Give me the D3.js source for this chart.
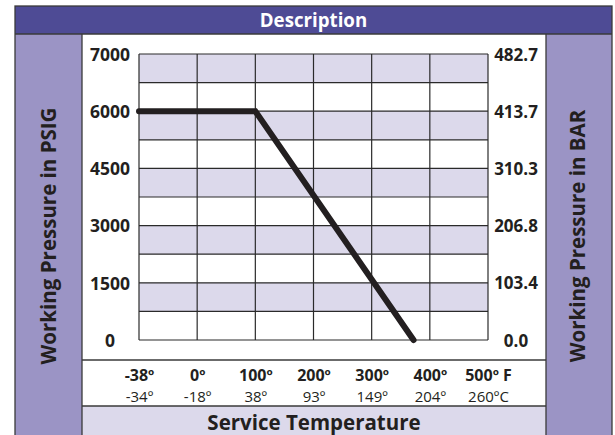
<!DOCTYPE html>
<html>
<head>
<meta charset="utf-8">
<script src="https://cdn.jsdelivr.net/npm/d3@7/dist/d3.min.js"></script>
<style>
  html, body { margin: 0; padding: 0; background: #fff; }
  svg { display: block; }
  text { font-family: "Open Sans", "Noto Sans", sans-serif; fill: #231f20; }
</style>
</head>
<body>
<svg id="chart" width="615" height="435"></svg>
<script>
// ---- data ----
const tempF = [-38, 0, 100, 200, 300, 400, 500];
const tempFLabels = ["-38º", "0º", "100º", "200º", "300º", "400º", "500º F"];
const tempCLabels = ["-34º", "-18º", "38º", "93º", "149º", "204º", "260ºC"];
const psiTicks = [0, 1500, 3000, 4500, 6000, 7000];
const psiLabels = ["0", "1500", "3000", "4500", "6000", "7000"];
const barLabels = ["0.0", "103.4", "206.8", "310.3", "413.7", "482.7"];
const gridPsi = [0, 750, 1500, 2250, 3000, 3750, 4500, 5250, 6000, 6500, 7000];
const lineTemp = [-38, 100, 372];
const linePsi = [6000, 6000, 0];
const titleText = "Description";
const leftTitle = "Working Pressure in PSIG";
const rightTitle = "Working Pressure in BAR";
const bottomTitle = "Service Temperature";

// ---- layout ----
const W = 615, H = 435;
const frame = { l: 15, r: 612, t: 6 };
const headerH = 28;
const bandL = 82, bandR = 546;
const plot = { l: 139, r: 488, t: 54, b: 340 };
const xRowLine = 360, bottomBandY = 406;

const cHeader = "#4e4b95", cSide = "#9b94c5", cLight = "#dcd9eb", cLine = "#3a3a3a";

const svg = d3.select("#chart");

// scales (piecewise, evenly spaced categories)
const x = d3.scaleLinear()
  .domain(tempF)
  .range(tempF.map((d, i) => plot.l + i * (plot.r - plot.l) / (tempF.length - 1)));
const y = d3.scaleLinear()
  .domain(psiTicks)
  .range(psiTicks.map((d, i) => plot.b - i * (plot.b - plot.t) / (psiTicks.length - 1)));

// background panels
svg.append("rect").attr("x", frame.l).attr("y", frame.t).attr("width", frame.r - frame.l).attr("height", headerH).attr("fill", cHeader);
svg.append("rect").attr("x", frame.l).attr("y", frame.t + headerH).attr("width", bandL - frame.l).attr("height", H).attr("fill", cSide);
svg.append("rect").attr("x", bandR).attr("y", frame.t + headerH).attr("width", frame.r - bandR).attr("height", H).attr("fill", cSide);
svg.append("rect").attr("x", bandL).attr("y", bottomBandY).attr("width", bandR - bandL).attr("height", H - bottomBandY + 5).attr("fill", cLight);

// stripes
const rows = d3.pairs(gridPsi);
svg.append("g").selectAll("rect").data(rows.filter((d, i) => i % 2 === 1)).join("rect")
  .attr("x", plot.l).attr("width", plot.r - plot.l)
  .attr("y", d => y(d[1])).attr("height", d => y(d[0]) - y(d[1]))
  .attr("fill", cLight);

// grid
const g = svg.append("g").attr("stroke", "#2a2a2a").attr("stroke-width", 1.2);
g.selectAll("line.h").data(gridPsi).join("line").attr("class", "h")
  .attr("x1", plot.l).attr("x2", plot.r).attr("y1", d => y(d)).attr("y2", d => y(d));
g.selectAll("line.v").data(tempF).join("line").attr("class", "v")
  .attr("y1", plot.t).attr("y2", plot.b).attr("x1", d => x(d)).attr("x2", d => x(d));

// frame lines
const f = svg.append("g").attr("stroke", cLine).attr("stroke-width", 1.3).attr("fill", "none");
f.append("rect").attr("x", frame.l).attr("y", frame.t).attr("width", frame.r - frame.l).attr("height", H);
f.append("line").attr("x1", frame.l).attr("x2", frame.r).attr("y1", frame.t + headerH).attr("y2", frame.t + headerH);
f.append("line").attr("x1", bandL).attr("x2", bandL).attr("y1", frame.t + headerH).attr("y2", H);
f.append("line").attr("x1", bandR).attr("x2", bandR).attr("y1", frame.t + headerH).attr("y2", H);
f.append("line").attr("x1", bandL).attr("x2", bandR).attr("y1", xRowLine).attr("y2", xRowLine);
f.append("line").attr("x1", bandL).attr("x2", bandR).attr("y1", bottomBandY).attr("y2", bottomBandY);

// data line
const lineData = lineTemp.map((t, i) => [t, linePsi[i]]);
svg.append("path").datum(lineData)
  .attr("d", d3.line().x(d => x(d[0])).y(d => y(d[1])))
  .attr("fill", "none").attr("stroke", "#231f20").attr("stroke-width", 6)
  .attr("stroke-linecap", "round").attr("stroke-linejoin", "miter");

// axes labels
const leftAxis = d3.axisLeft(y).tickValues(psiTicks).tickFormat((d, i) => psiLabels[i]).tickSize(0).tickPadding(0);
const la = svg.append("g").attr("transform", `translate(110,0)`).call(leftAxis);
la.select(".domain").remove();
la.selectAll("text").attr("text-anchor", "middle").attr("x", 0).attr("dy", "0.36em")
  .style("font-size", "17.5px").style("font-weight", "700").style("font-family", "'Open Sans', sans-serif").attr("fill", "#231f20");

const rightAxis = d3.axisRight(y).tickValues(psiTicks).tickFormat((d, i) => barLabels[i]).tickSize(0).tickPadding(0);
const ra = svg.append("g").attr("transform", `translate(516,0)`).call(rightAxis);
ra.select(".domain").remove();
ra.selectAll("text").attr("text-anchor", "middle").attr("x", 0).attr("dy", "0.36em")
  .style("font-size", "17px").style("font-weight", "700").style("font-family", "'Open Sans', sans-serif").attr("fill", "#231f20");

const bottomF = d3.axisBottom(x).tickValues(tempF).tickFormat((d, i) => tempFLabels[i]).tickSize(0).tickPadding(0);
const bf = svg.append("g").attr("transform", `translate(0,381)`).call(bottomF);
bf.select(".domain").remove();
bf.selectAll("text").attr("y", 0).attr("dy", 0)
  .style("font-size", "16px").style("font-weight", "700").style("font-family", "'Open Sans', sans-serif").attr("fill", "#231f20");

const bottomC = d3.axisBottom(x).tickValues(tempF).tickFormat((d, i) => tempCLabels[i]).tickSize(0).tickPadding(0);
const bc = svg.append("g").attr("transform", `translate(0,401.5)`).call(bottomC);
bc.select(".domain").remove();
bc.selectAll("text").attr("y", 0).attr("dy", 0)
  .style("font-size", "15px").style("font-weight", "400").style("font-family", "'Open Sans', sans-serif").attr("fill", "#231f20");

// titles
svg.append("text").attr("x", (frame.l + frame.r) / 2).attr("y", frame.t + headerH / 2).attr("dy", "0.35em")
  .attr("text-anchor", "middle").style("font-size", "18.7px").style("font-weight", "700").style("fill", "#fff").text(titleText);
svg.append("text").attr("transform", `translate(49,236) rotate(-90)`).attr("dy", "0.35em")
  .attr("text-anchor", "middle").style("font-size", "20.5px").style("font-weight", "700").text(leftTitle);
svg.append("text").attr("transform", `translate(578,236) rotate(-90)`).attr("dy", "0.35em")
  .attr("text-anchor", "middle").style("font-size", "20.5px").style("font-weight", "700").text(rightTitle);
svg.append("text").attr("x", (bandL + bandR) / 2).attr("y", 430)
  .attr("text-anchor", "middle").style("font-size", "20.5px").style("font-weight", "700").text(bottomTitle);
</script>
</body>
</html>
